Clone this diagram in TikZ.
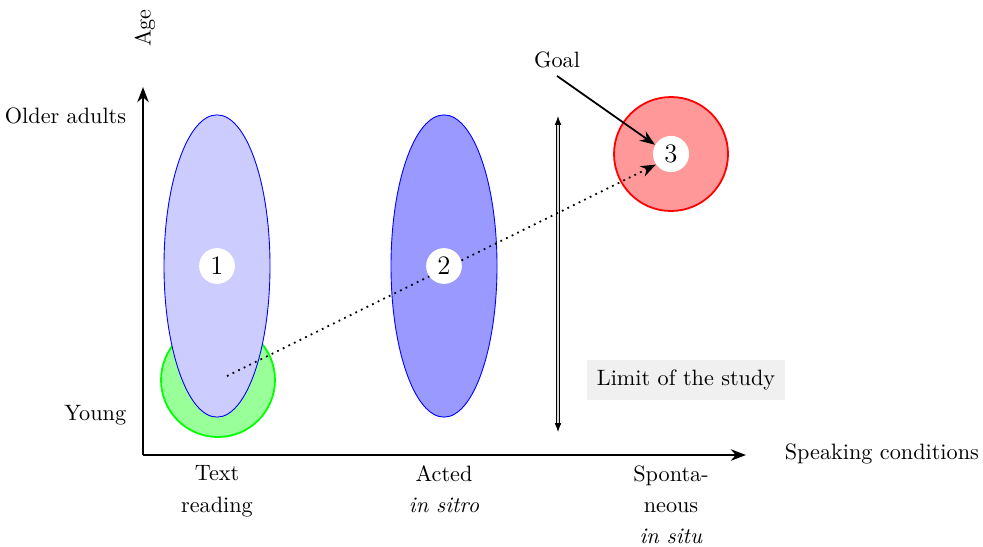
\documentclass[tikz,border=0pt]{standalone}
\usepackage{xcolor}
\usepackage{tikz}
\usetikzlibrary{arrows.meta,shapes.geometric}
\tikzset{
  zone/.style={ellipse, draw=blue, minimum width=47.7pt, minimum height=136pt, inner sep=0pt},
  disc/.style={circle, thick, minimum size=51.3pt, inner sep=0pt},
  numdot/.style={circle, fill=white, inner sep=2.2pt, font=\large},
  tick/.style={anchor=north, align=center, font=\fontsize{10}{14}\selectfont},
  axlabel/.style={font=\normalsize},
  aarrow/.style={-{Stealth[length=2.4mm]}, line width=1.1pt},
}
\begin{document}
\begin{tikzpicture}[x=0.45pt, y=-0.45pt]
  \useasboundingbox (0,0) rectangle (983,546);
  % regions
  \node[disc, draw=green, fill=green!40] (young) at (218,380) {};
  \node[zone, fill=blue!20] (read) at (217,266) {};
  \node[zone, fill=blue!40] (acted) at (444,266) {};
  \node[disc, draw=red, fill=red!40] (spont) at (671,154) {};
  % axes
  \coordinate (origin) at (143,455);
  \coordinate (xend) at (746,455);
  \coordinate (yend) at (143,87);
  \draw[aarrow] (origin) -- (xend);
  \draw[aarrow] (origin) -- (yend);
  \node[axlabel, rotate=90] (age) at (145,28) {Age};
  \node[axlabel, anchor=east] (old) at (134,116) {Older adults};
  \node[axlabel, anchor=east] (yng) at (134,415) {Young};
  \node[axlabel, anchor=west] (speak) at (777,454) {Speaking conditions};
  \node[tick] (t1) at (217,458) {Text\\reading};
  \node[tick] (t2) at (444,458) {Acted\\\textit{in sitro}};
  \node[tick] (t3) at (671,458) {Sponta-\\neous\\\textit{in situ}};
  % limit
  \coordinate (ltop) at (558,116);
  \coordinate (lbot) at (558,432);
  \draw[double=gray!30, {Latex[length=1.4mm]}-{Latex[length=1.4mm]}] (ltop) -- (lbot);
  \node[fill=gray!12, inner sep=4.5pt, minimum height=18pt] (limit) at (686,380) {Limit of the study};
  % numbers
  \node[numdot] (n1) at (read) {1};
  \node[numdot] (n3) at (spont) {3};
  % path to goal
  \coordinate (start) at (227,376);
  \draw[dotted, thick, -{Stealth[length=2.4mm]}] (start) -- (n3.215);
  \node[axlabel] (goal) at (557,60) {Goal};
  \draw[-{Stealth[length=2.4mm]}, thick] (goal.south) -- (n3.150);
  \node[numdot] (n2) at (acted) {2};
\end{tikzpicture}
\end{document}
